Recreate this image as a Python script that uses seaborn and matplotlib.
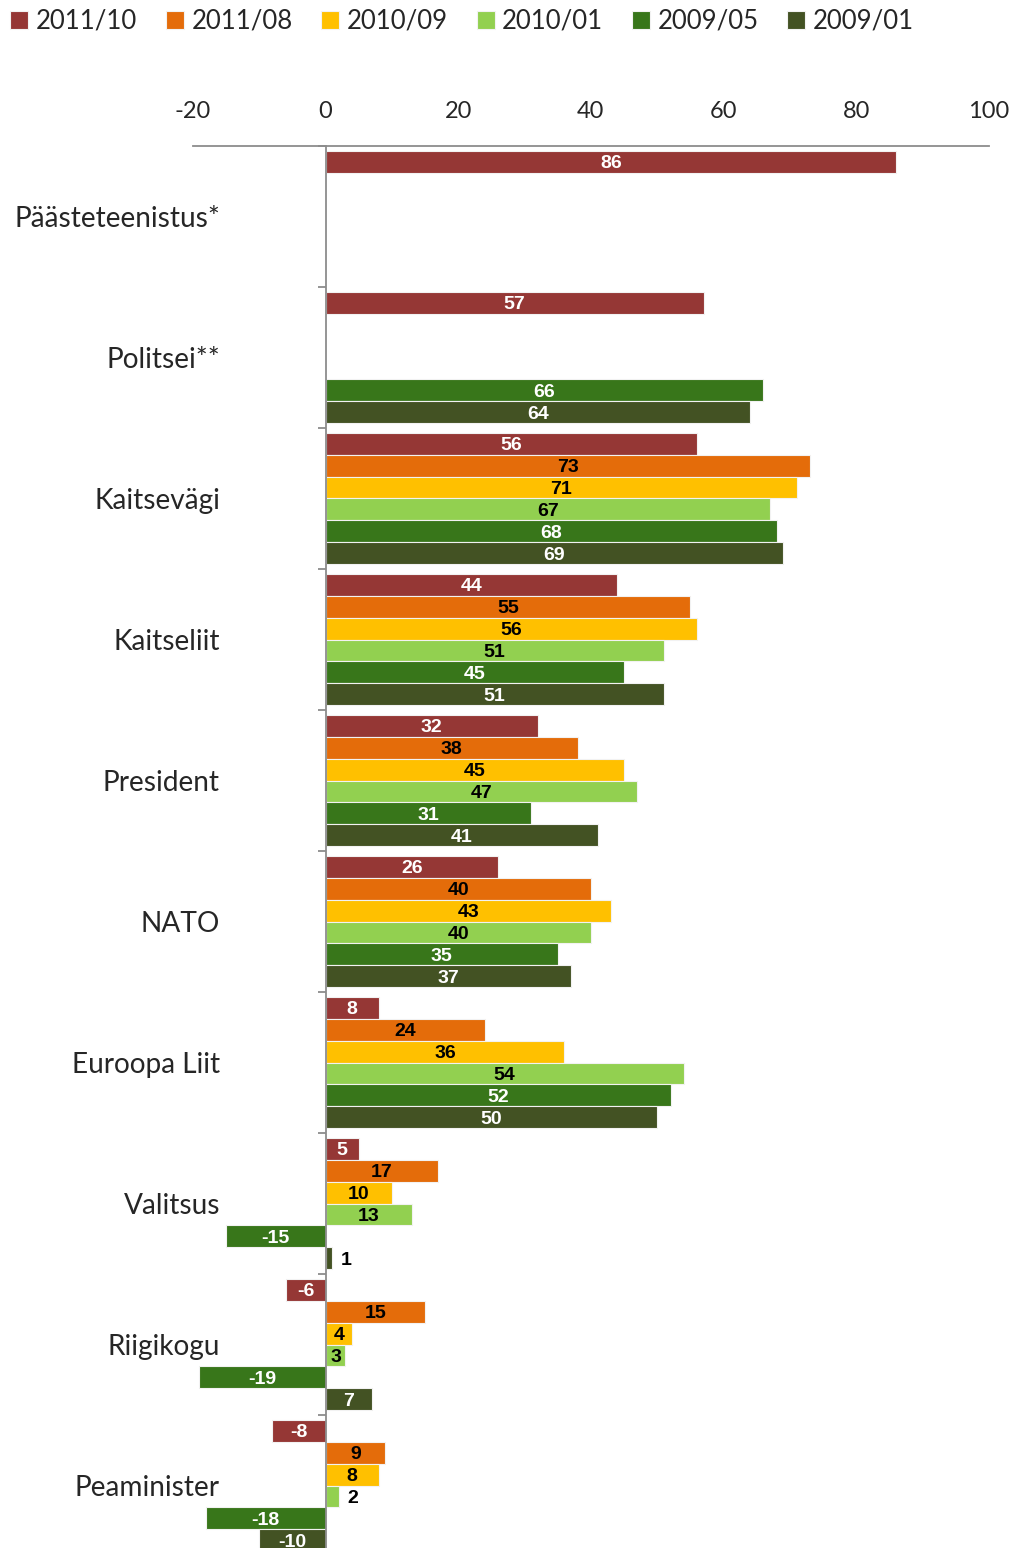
import numpy as np
import pandas as pd
import seaborn as sns
import matplotlib.pyplot as plt

# data
categories = ["Päästeteenistus*", "Politsei**", "Kaitsevägi", "Kaitseliit", "President",
              "NATO", "Euroopa Liit", "Valitsus", "Riigikogu", "Peaminister"]
periods = ["2011/10", "2011/08", "2010/09", "2010/01", "2009/05", "2009/01"]
nan = np.nan
v_2011_10 = [86, 57, 56, 44, 32, 26, 8, 5, -6, -8]
v_2011_08 = [nan, nan, 73, 55, 38, 40, 24, 17, 15, 9]
v_2010_09 = [nan, nan, 71, 56, 45, 43, 36, 10, 4, 8]
v_2010_01 = [nan, nan, 67, 51, 47, 40, 54, 13, 3, 2]
v_2009_05 = [nan, 66, 68, 45, 31, 35, 52, -15, -19, -18]
v_2009_01 = [nan, 64, 69, 51, 41, 37, 50, 1, 7, -10]
x_ticks = [-20, 0, 20, 40, 60, 80, 100]

colors = ["#953735", "#E46C0A", "#FFC000", "#92D050", "#38761A", "#435223"]
label_colors = ["white", "black", "black", "black", "white", "white"]

df = pd.DataFrame({"kategooria": categories, "2011/10": v_2011_10, "2011/08": v_2011_08,
                   "2010/09": v_2010_09, "2010/01": v_2010_01, "2009/05": v_2009_05,
                   "2009/01": v_2009_01})
long = df.melt(id_vars="kategooria", var_name="periood", value_name="hinnang").dropna()

sns.set_style("white")
plt.rcParams["font.family"] = ["Lato", "DejaVu Sans"]
plt.rcParams["axes.unicode_minus"] = False

fig = plt.figure(figsize=(10.15, 15.48), dpi=100)
ax = fig.add_axes([0.190, -0.0052, 0.7844, 0.9109])

sns.barplot(data=long, y="kategooria", x="hinnang", hue="periood", order=categories,
            hue_order=periods, palette=colors, saturation=1, orient="h", width=0.93,
            dodge=True, edgecolor="#f2f2f2", linewidth=0.8, ax=ax)

ax.set_xlim(-20, 100)
ax.set_ylim(len(categories) - 0.5, -0.5)
ax.set_xticks(x_ticks)
ax.xaxis.tick_top()
ax.tick_params(axis="x", length=0, pad=17, labelsize=17)
ax.set_xlabel("")
ax.set_ylabel("")

for side in ["right", "bottom"]:
    ax.spines[side].set_visible(False)
ax.spines["top"].set_color("#8c8c8c")
ax.spines["top"].set_linewidth(1.3)
ax.spines["left"].set_position(("data", 0))
ax.spines["left"].set_color("#8c8c8c")
ax.spines["left"].set_linewidth(1.3)

ax.set_yticks(np.arange(len(categories)), minor=False)
ax.set_yticklabels(categories)
ax.set_yticks(np.arange(len(categories) + 1) - 0.5, minor=True)
ax.tick_params(axis="y", which="major", length=0, pad=76, labelsize=20.2)
ax.tick_params(axis="y", which="minor", length=6, width=1.3, color="#8c8c8c",
               direction="out", left=True)

# value labels
for cont, tc in zip(ax.containers, label_colors):
    for bar in cont:
        w = bar.get_width()
        if np.isnan(w):
            continue
        yc = bar.get_y() + bar.get_height() / 2
        if abs(w) < 3:
            ax.text(bar.get_x() + w + 1.3, yc, f"{w:.0f}", ha="left", va="center_baseline",
                    color="black", fontsize=14, fontweight="bold",
                    family="Liberation Sans")
        else:
            ax.text(bar.get_x() + w / 2, yc, f"{w:.0f}", ha="center", va="center_baseline",
                    color=tc, fontsize=14, fontweight="bold", family="Liberation Sans")

handles, labels = ax.get_legend_handles_labels()
ax.get_legend().remove()
fig.legend(handles, labels, loc="upper left", bbox_to_anchor=(0.0, 1.001), ncol=6,
           frameon=False, fontsize=18.5, handlelength=0.7, handleheight=0.7,
           handletextpad=0.3, columnspacing=1.11, borderaxespad=0)

fig.savefig("out.png", dpi=100)
